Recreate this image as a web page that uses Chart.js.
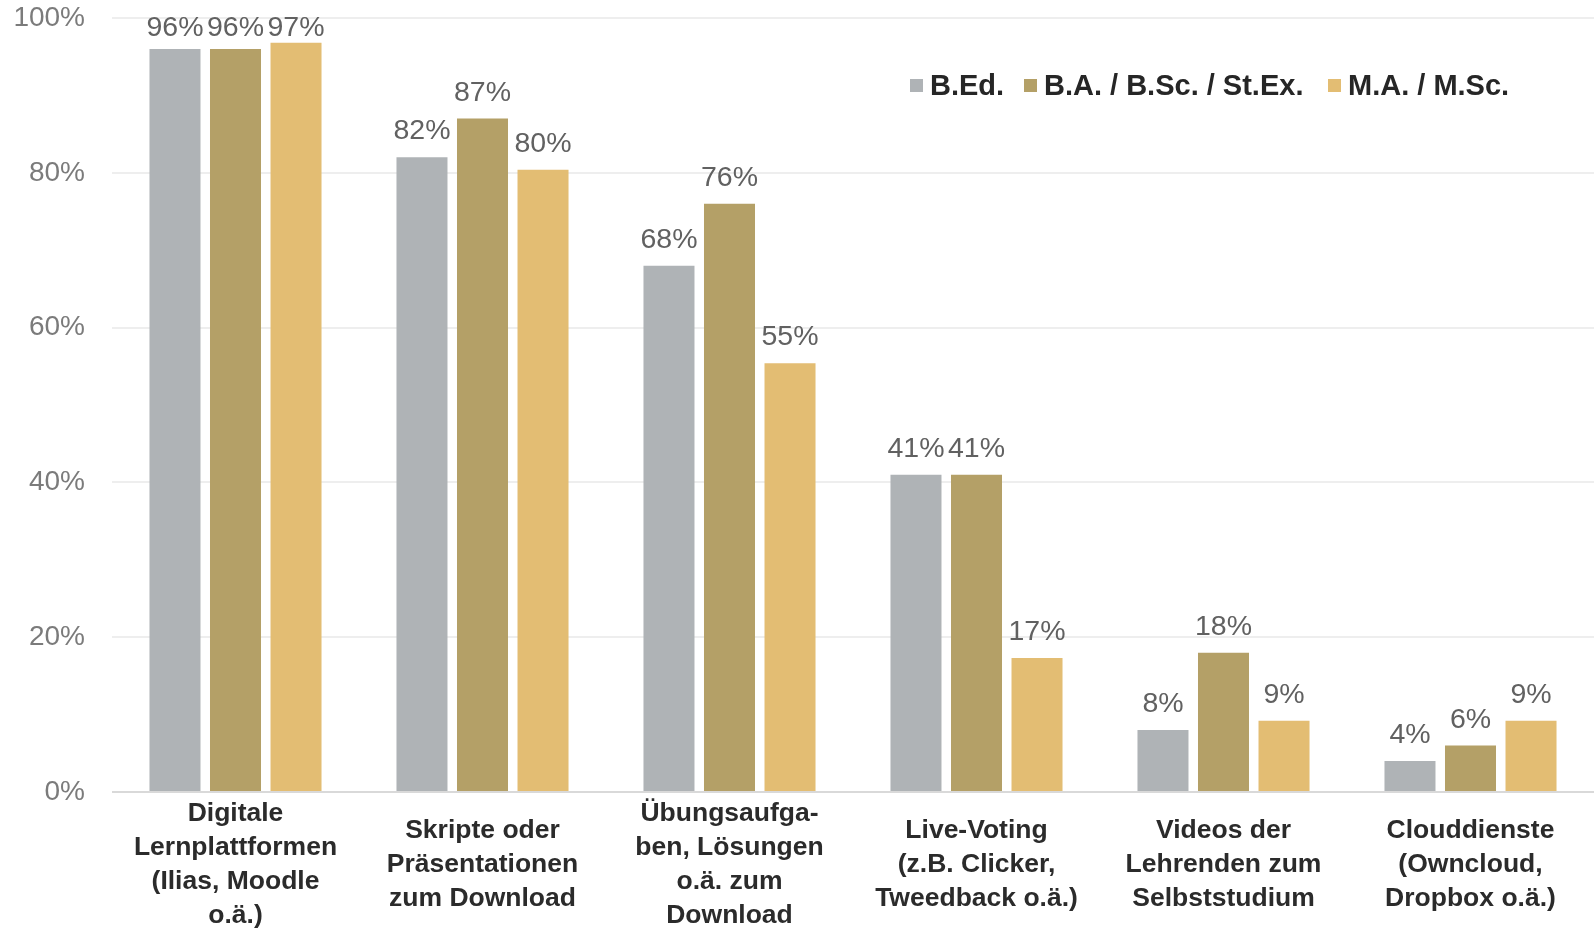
<!DOCTYPE html>
<html>
<head>
<meta charset="utf-8">
<script src="https://cdn.jsdelivr.net/npm/chart.js@4.4.1/dist/chart.umd.min.js"></script>
<style>
  html, body { margin: 0; padding: 0; background: #ffffff; }
  #wrap { width: 1594px; height: 929px; }
</style>
</head>
<body>
<div id="wrap"><canvas id="c" width="1594" height="929"></canvas></div>
<script>
// ---- data ----
const categories = [
  ["Digitale", "Lernplattformen", "(Ilias, Moodle", "o.ä.)"],
  ["Skripte oder", "Präsentationen", "zum Download"],
  ["Übungsaufga-", "ben, Lösungen", "o.ä. zum", "Download"],
  ["Live-Voting", "(z.B. Clicker,", "Tweedback o.ä.)"],
  ["Videos der", "Lehrenden zum", "Selbststudium"],
  ["Clouddienste", "(Owncloud,", "Dropbox o.ä.)"]
];
const seriesNames = ["B.Ed.", "B.A. / B.Sc. / St.Ex.", "M.A. / M.Sc."];
const bEd   = [96, 82, 68, 41, 8, 4];
const baBsc = [96, 87, 76, 41, 18, 6];
const maMsc = [96.8, 80.4, 55.4, 17.3, 9.2, 9.2];
const yTicks = [0, 20, 40, 60, 80, 100];

const colors = ["#AFB3B6", "#B4A067", "#E3BD73"];
const FONT = '"Liberation Sans", Arial, Helvetica, sans-serif';

const dataLabelPlugin = {
  id: 'dataLabels',
  afterDatasetsDraw(chart) {
    const ctx = chart.ctx;
    ctx.save();
    ctx.font = '28.5px ' + FONT;
    ctx.fillStyle = '#616161';
    ctx.textAlign = 'center';
    ctx.textBaseline = 'alphabetic';
    chart.data.datasets.forEach((ds, i) => {
      const meta = chart.getDatasetMeta(i);
      meta.data.forEach((bar, j) => {
        const y = Math.max(bar.y - 18, 35.5);
        ctx.fillText(Math.round(ds.data[j]) + '%', bar.x, y);
      });
    });
    ctx.restore();
  }
};

const legendPlugin = {
  id: 'customLegend',
  afterDraw(chart) {
    const ctx = chart.ctx;
    const starts = [910, 1024, 1328];
    ctx.save();
    ctx.font = 'bold 29px ' + FONT;
    ctx.textAlign = 'left';
    ctx.textBaseline = 'alphabetic';
    chart.data.datasets.forEach((ds, i) => {
      const x = starts[i];
      ctx.fillStyle = ds.backgroundColor;
      ctx.fillRect(x, 79, 13, 13);
      ctx.fillStyle = '#262626';
      ctx.fillText(ds.label, x + 20, 95);
    });
    ctx.restore();
  }
};

new Chart(document.getElementById('c'), {
  type: 'bar',
  data: {
    labels: categories,
    datasets: [
      { label: seriesNames[0], data: bEd,   backgroundColor: colors[0] },
      { label: seriesNames[1], data: baBsc, backgroundColor: colors[1] },
      { label: seriesNames[2], data: maMsc, backgroundColor: colors[2] }
    ]
  },
  options: {
    responsive: false,
    devicePixelRatio: 1,
    animation: false,
    layout: { padding: { top: 18, right: 0, bottom: 0, left: 0 } },
    datasets: {
      bar: { categoryPercentage: 0.735, barPercentage: 0.843 }
    },
    plugins: {
      legend: { display: false },
      tooltip: { enabled: false }
    },
    scales: {
      x: {
        grid: { display: false, drawTicks: false },
        border: { display: false },
        ticks: {
          autoSkip: false,
          maxRotation: 0,
          minRotation: 0,
          crossAlign: 'center',
          padding: 22,
          color: '#2b2b2b',
          font: { family: FONT, size: 26.5, weight: 'bold', lineHeight: '34px' }
        },
        afterFit(scale) {
          scale.height = 137;
          scale.paddingLeft = 0; scale.paddingRight = 0;
          scale.paddingTop = 0; scale.paddingBottom = 0;
        }
      },
      y: {
        min: 0,
        max: 100,
        afterBuildTicks(scale) { scale.ticks = yTicks.map(v => ({ value: v })); },
        grid: {
          drawTicks: false,
          lineWidth: 2,
          color: (c) => (c.tick && c.tick.value === 0) ? '#d9d9d9' : '#eeeeee'
        },
        border: { display: false },
        ticks: {
          padding: 27,
          color: '#7b7b7b',
          font: { family: FONT, size: 28, lineHeight: 1.1 },
          callback: (v) => v + '%'
        },
        afterFit(scale) {
          scale.width = 112;
          scale.paddingTop = 0; scale.paddingBottom = 0;
          scale.paddingLeft = 0; scale.paddingRight = 0;
        }
      }
    }
  },
  plugins: [dataLabelPlugin, legendPlugin]
});
</script>
</body>
</html>
